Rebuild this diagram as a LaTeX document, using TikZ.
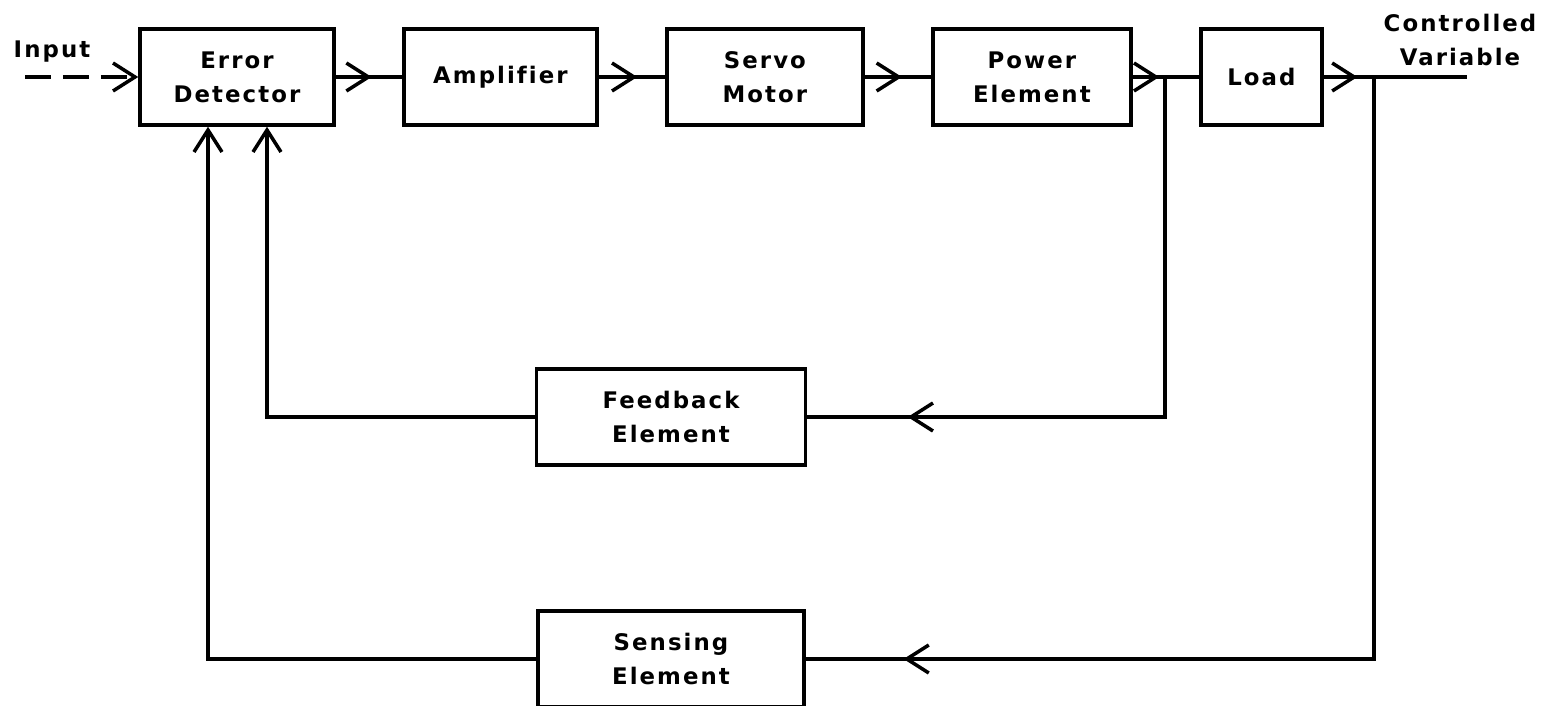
\documentclass[tikz,border=0pt]{standalone}
\usepackage{fontspec}
\usetikzlibrary{positioning,arrows.meta,decorations.markings,calc}
\newfontfamily\plotfont[LetterSpace=9, Ligatures=CommonOff]{DejaVu Sans}
\tikzset{
  block/.style={draw, line width=2pt, minimum height=1.92cm, minimum width=#1, align=center, font=\plotfont\bfseries\fontsize{13}{19.4}\selectfont},
  block/.default={3.9cm},
  wire/.style={line width=2pt},
  headarrow/.style={-{Straight Barb[length=4.4mm, width=5.6mm]}},
  midarrow/.style={postaction={decorate}, decoration={markings, mark=at position #1 with {\arrow{Straight Barb[length=4.4mm, width=5.6mm]}}}},
  lbl/.style={font=\plotfont\bfseries\fontsize{13}{19.4}\selectfont, align=center, inner sep=0pt}
}

\begin{document}
\begin{tikzpicture}[x=0.02cm, y=-0.02cm]
  \useasboundingbox (0,0) rectangle (1552,706);
  % forward path
  \node[block=3.88cm] (ed) at (237,77) {Error\\Detector};
  \node[block=3.86cm, right=1.33cm of ed] (amp) {Amplifier};
  \node[block=3.92cm, right=1.33cm of amp] (servo) {Servo\\Motor};
  \node[block=3.96cm, right=1.33cm of servo] (pow) {Power\\Element};
  \node[block=2.42cm, right=1.33cm of pow] (load) {Load};
  % feedback blocks
  \node[block=5.38cm] (fb) at (671,417) {Feedback\\Element};
  \node[block=5.32cm] (sn) at (671,659) {Sensing\\Element};
  % ends and taps
  \coordinate (in) at (25,77);
  \coordinate (out) at (1467,77);
  \coordinate (tapfb) at (1165,77);
  \coordinate (tapsn) at (1374,77);
  \node[lbl, anchor=base] (inlbl) at (52,58) {Input};
  \node[lbl] (outlbl) at (1460,40) {Controlled\\Variable};

  \draw[wire, headarrow, dash pattern=on 0.52cm off 0.24cm] (in) -- (ed);
  \draw[wire, midarrow=0.54] (ed) -- (amp);
  \draw[wire, midarrow=0.58] (amp) -- (servo);
  \draw[wire, midarrow=0.56] (servo) -- (pow);
  \draw[wire, midarrow=0.4] (pow) -- (load);
  \draw[wire, midarrow=0.236] (load) -- (out);
  \draw[wire, midarrow=0.856] (tapfb) |- (fb);
  \draw[wire, headarrow] (fb) -| ($(ed.south)+(30,0)$);
  \draw[wire, midarrow=0.915] (tapsn) |- (sn);
  \draw[wire, headarrow] (sn) -| ($(ed.south)+(-29,0)$);
\end{tikzpicture}
\end{document}
